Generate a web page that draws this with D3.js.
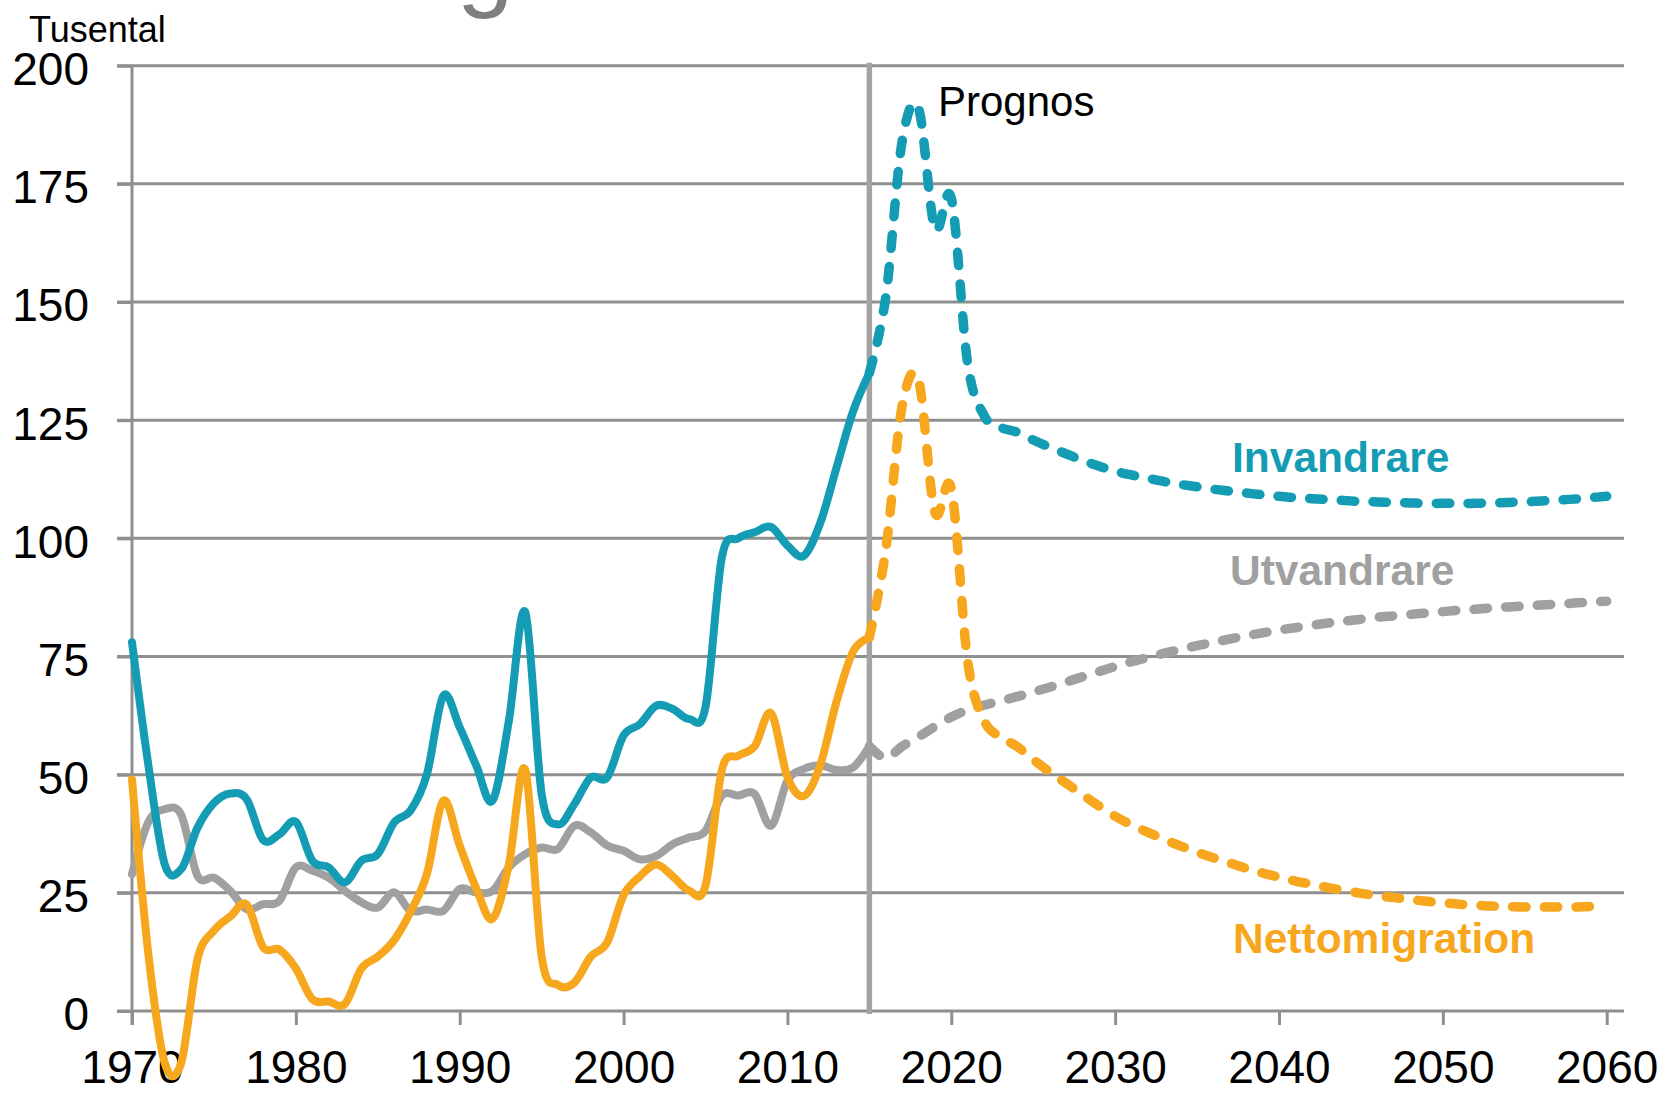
<!DOCTYPE html>
<html>
<head>
<meta charset="utf-8">
<script src="https://cdn.jsdelivr.net/npm/d3@7"></script>
<style>
  html, body { margin: 0; padding: 0; background: #ffffff; }
  svg { display: block; font-family: "Liberation Sans", Arial, sans-serif; }
</style>
</head>
<body>
<svg id="chart" width="1663" height="1093"></svg>
<script>
// ---------- DATA ----------
const histYears = d3.range(1970, 2016);
const invandrareHist = [78, 52, 31, 30, 38.8, 44, 46, 44.8, 36.2, 37.4,
  40, 31.8, 30.4, 27.2, 31.8, 33.2, 39.9, 42.4, 50.1, 66.7,
  60, 52, 44.5, 61.4, 84.4, 45.9, 39.5, 43.8, 49.4, 49.4,
  58.3, 60.7, 64.6, 63.9, 61.8, 64.3, 96, 100, 101.3, 102.4,
  98.5, 96.3, 103.2, 115, 126.8, 135];
const utvandrareHist = [29, 40, 42.7, 41.5, 28.6, 28.2, 25.4, 21.5, 22.6, 23.3,
  30.4, 29.7, 28.2, 25.4, 23, 21.9, 25.1, 21.2, 21.5, 21.2,
  25.8, 25.1, 25.4, 30.4, 33.2, 34.6, 34.3, 39.2, 37.8, 35,
  33.9, 32.1, 32.8, 35.3, 36.7, 38.1, 45.6, 45.6, 45.9, 39.2,
  48.7, 51.2, 52, 51, 51.5, 56];
const nettoHist = [49, 12, -11, -11, 11, 17, 20, 22.5, 13.5, 13,
  9, 2.5, 2, 1.5, 9, 11.5, 15, 21, 29, 44.5,
  35, 26, 19.5, 31, 51, 11.5, 5.5, 6, 11.5, 14.5,
  24.5, 28.5, 31, 28.5, 25.5, 26.5, 51, 54, 56, 63,
  49.5, 45.5, 52, 65.5, 76, 79];

const progYears = d3.range(2015, 2061);
const invandrareProg = [135, 151, 184, 191, 165.5, 172, 137, 126, 123.5, 122.5,
  120.8, 119.3, 117.9, 116.5, 115.3, 114.2, 113.4, 112.7, 112, 111.4,
  110.9, 110.4, 110, 109.6, 109.2, 108.9, 108.6, 108.4, 108.2, 108,
  107.8, 107.7, 107.6, 107.5, 107.4, 107.4, 107.4, 107.4, 107.5, 107.6,
  107.7, 107.9, 108.1, 108.3, 108.6, 108.9];
const utvandrareProg = [56, 53.5, 56, 58, 60.2, 62.2, 63.7, 64.7, 65.6, 66.5,
  67.5, 68.5, 69.6, 70.7, 71.8, 72.9, 73.9, 74.8, 75.7, 76.5,
  77.3, 78, 78.7, 79.4, 80, 80.6, 81.1, 81.6, 82.1, 82.5,
  82.9, 83.3, 83.6, 83.9, 84.2, 84.5, 84.8, 85, 85.3, 85.5,
  85.7, 85.9, 86.1, 86.3, 86.5, 86.7];
const nettoProg = [79, 97.5, 128, 133.5, 105.5, 110.5, 74, 61.5, 58, 56,
  53.2, 50.6, 48.2, 45.8, 43.4, 41.2, 39.4, 37.8, 36.3, 34.9,
  33.6, 32.4, 31.3, 30.2, 29.2, 28.3, 27.5, 26.8, 26.1, 25.5,
  24.9, 24.4, 24, 23.6, 23.2, 22.9, 22.6, 22.4, 22.2, 22.1,
  22, 22, 22, 22, 22.1, 22.2];

const yTicks = [0, 25, 50, 75, 100, 125, 150, 175, 200];
const xTicks = [1970, 1980, 1990, 2000, 2010, 2020, 2030, 2040, 2050, 2060];
const prognosYear = 2015;

const colors = { inv: "#149cb4", ut: "#a0a0a0", net: "#f6a71d", grid: "#8f8f8f", vline: "#a3a3a3" };

// ---------- SCALES ----------
const svg = d3.select("#chart");
const x = d3.scaleLinear().domain([1970, 2060]).range([132, 1606.7]);
const y = d3.scaleLinear().domain([0, 200]).range([1011, 65.7]);

// ---------- TITLE FRAGMENT (cut off at top, as in the reference) ----------
svg.append("text")
  .attr("x", 349).attr("y", -2.5)
  .attr("font-size", 102).attr("fill", "#7f7f7f")
  .text("Migration");

// ---------- GRID ----------
svg.append("g").selectAll("line").data(yTicks).join("line")
  .attr("x1", 117).attr("x2", 1624)
  .attr("y1", d => y(d)).attr("y2", d => y(d))
  .attr("stroke", colors.grid).attr("stroke-width", 3);

// ---------- AXES ----------
const yAxis = d3.axisLeft(y).tickValues(yTicks).tickSize(15).tickPadding(28).tickSizeOuter(0);
const gy = svg.append("g").attr("transform", "translate(132,0)").call(yAxis);
gy.select(".domain").remove();
gy.selectAll(".tick line").attr("stroke", colors.grid).attr("stroke-width", 3);
gy.selectAll(".tick text").attr("font-size", 46).attr("fill", "#000").attr("dy", "0.41em")
  .attr("font-family", "Liberation Sans, Arial, sans-serif");

const xAxis = d3.axisBottom(x).tickValues(xTicks).tickFormat(d3.format("d")).tickSize(14).tickPadding(25).tickSizeOuter(0);
const gx = svg.append("g").attr("transform", "translate(0,1011)").call(xAxis);
gx.select(".domain").remove();
gx.selectAll(".tick line").attr("stroke", colors.grid).attr("stroke-width", 3);
gx.selectAll(".tick text").attr("font-size", 46).attr("fill", "#000")
  .attr("font-family", "Liberation Sans, Arial, sans-serif");

// y axis line
svg.append("line")
  .attr("x1", x(1970)).attr("x2", x(1970))
  .attr("y1", y(200)).attr("y2", 1025)
  .attr("stroke", colors.grid).attr("stroke-width", 3);

// prognos line
svg.append("line")
  .attr("x1", x(prognosYear)).attr("x2", x(prognosYear))
  .attr("y1", y(200) - 3).attr("y2", y(0) + 3)
  .attr("stroke", colors.vline).attr("stroke-width", 5.5);

// ---------- LINES ----------
const line = d3.line()
  .x(d => x(d[0])).y(d => y(d[1]))
  .curve(d3.curveCardinal.tension(0));

function series(years, vals) { return years.map((yr, i) => [yr, vals[i]]); }

const solid = [
  [utvandrareHist, colors.ut],
  [nettoHist, colors.net],
  [invandrareHist, colors.inv]
];
const dashed = [
  [utvandrareProg, colors.ut],
  [nettoProg, colors.net],
  [invandrareProg, colors.inv]
];

const gl = svg.append("g").attr("fill", "none");
dashed.forEach(([vals, c]) => {
  gl.append("path").attr("d", line(series(progYears, vals)))
    .attr("stroke", c).attr("stroke-width", 9.5)
    .attr("stroke-linecap", "round").attr("stroke-linejoin", "round")
    .attr("stroke-dasharray", "13.5,18.2");
});
solid.forEach(([vals, c]) => {
  gl.append("path").attr("d", line(series(histYears, vals)))
    .attr("stroke", c).attr("stroke-width", 8)
    .attr("stroke-linecap", "round").attr("stroke-linejoin", "round");
});

// ---------- LABELS ----------
svg.append("text").attr("x", 29).attr("y", 41.5)
  .attr("font-size", 36).attr("fill", "#000").text("Tusental");
svg.append("text").attr("x", 938).attr("y", 116)
  .attr("font-size", 42).attr("fill", "#000").text("Prognos");

const seriesLabels = [
  { text: "Invandrare", x: 1232, y: 471.5, color: colors.inv },
  { text: "Utvandrare", x: 1230, y: 585, color: colors.ut },
  { text: "Nettomigration", x: 1233, y: 952.5, color: colors.net }
];
svg.append("g").selectAll("text").data(seriesLabels).join("text")
  .attr("x", d => d.x).attr("y", d => d.y)
  .attr("font-size", 42.5).attr("font-weight", "bold")
  .attr("fill", d => d.color).text(d => d.text);
</script>
</body>
</html>
